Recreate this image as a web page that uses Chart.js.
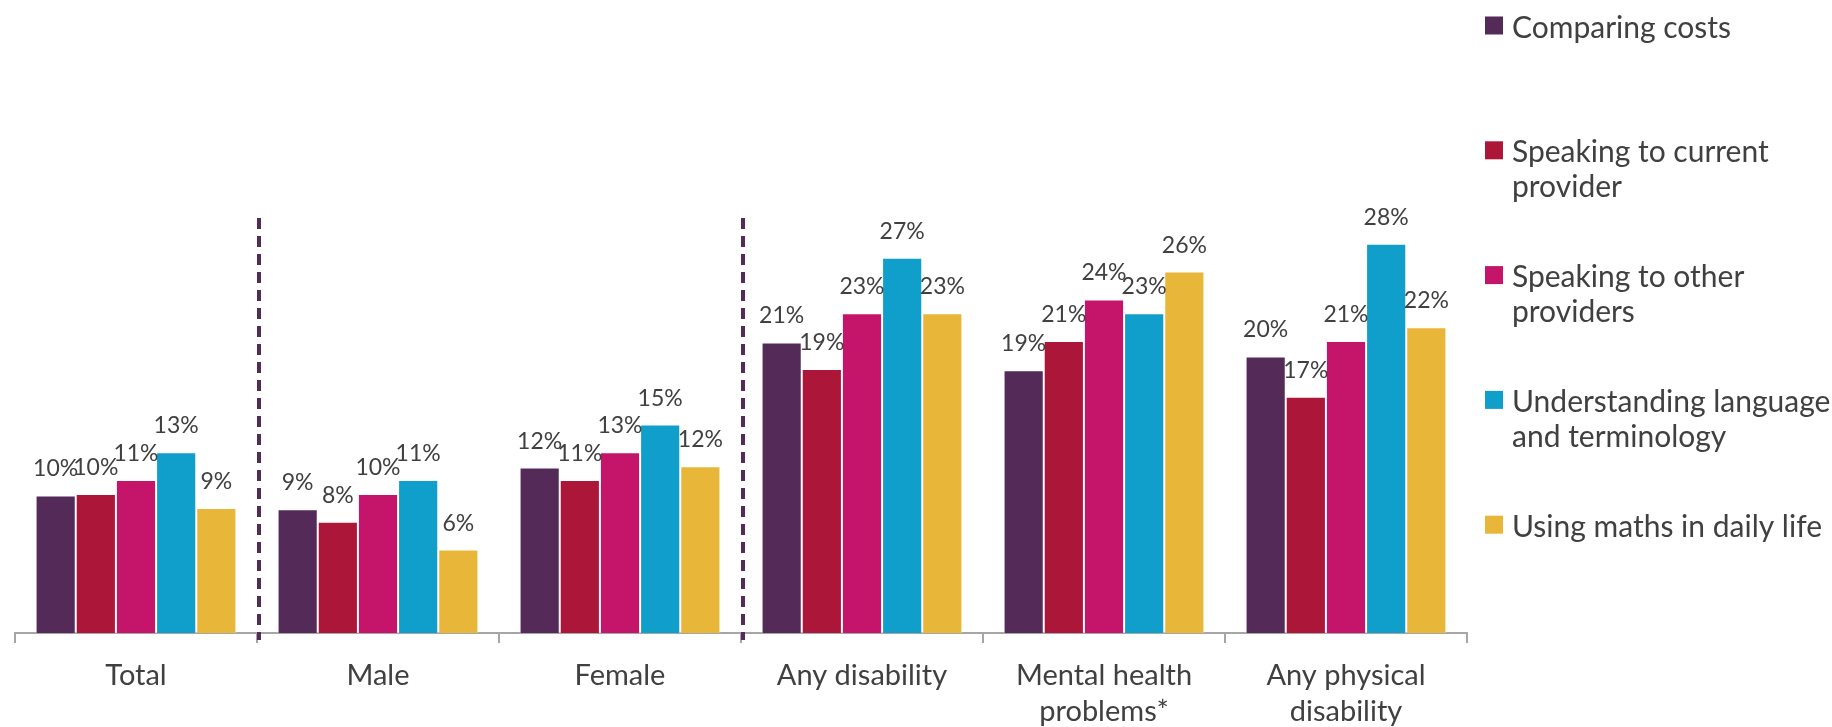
<!DOCTYPE html>
<html>
<head>
<meta charset="utf-8">
<script src="https://cdn.jsdelivr.net/npm/chart.js@4.4.1/dist/chart.umd.min.js"></script>
<style>
  body { margin: 0; background: #fff; }
  #wrap { width: 1832px; height: 727px; position: relative; }
</style>
</head>
<body>
<div id="wrap"><canvas id="myChart"></canvas></div>
<script>
const categories = ['Total', 'Male', 'Female', 'Any disability', ['Mental health', 'problems*'], ['Any physical', 'disability']];

const seriesNames = ['Comparing costs', 'Speaking to current provider', 'Speaking to other providers', 'Understanding language and terminology', 'Using maths in daily life'];
const legendLines = [
    ['Comparing costs'],
    ['Speaking to current', 'provider'],
    ['Speaking to other', 'providers'],
    ['Understanding language', 'and terminology'],
    ['Using maths in daily life']
];
const seriesColors = ['#532A58', '#AB1639', '#C4156B', '#109FCA', '#E8B739'];

const comparingCosts = [9.9, 8.9, 11.9, 20.9, 18.9, 19.9];
const speakingCurrent = [10.0, 8.0, 11.0, 19.0, 21.0, 17.0];
const speakingOther = [11.0, 10.0, 13.0, 23.0, 24.0, 21.0];
const understandingLanguage = [13.0, 11.0, 15.0, 27.0, 23.0, 28.0];
const usingMaths = [9.0, 6.0, 12.0, 23.0, 26.0, 22.0];

// dashed separators after these category indexes
const separatorsAfter = [0, 2];

const FONT = 'Lato, "Open Sans", sans-serif';
const TEXT = '#404040';

// dashed purple divider lines
const dividers = {
    id: 'dividers',
    afterDatasetsDraw(chart) {
        const { ctx, chartArea } = chart;
        const x = chart.scales.x;
        ctx.save();
        ctx.strokeStyle = '#532A58';
        ctx.lineWidth = 4;
        ctx.setLineDash([11, 7]);
        separatorsAfter.forEach(i => {
            const px = (x.getPixelForValue(i) + x.getPixelForValue(i + 1)) / 2 + 2;
            ctx.beginPath();
            ctx.moveTo(px, chartArea.top + 2);
            ctx.lineTo(px, chartArea.bottom + 7);
            ctx.stroke();
        });
        ctx.restore();
    }
};

// value labels above bars
const valueLabels = {
    id: 'valueLabels',
    afterDatasetsDraw(chart) {
        const { ctx } = chart;
        ctx.save();
        ctx.font = '23px ' + FONT;
        ctx.fillStyle = TEXT;
        ctx.textAlign = 'center';
        ctx.textBaseline = 'alphabetic';
        chart.data.datasets.forEach((ds, di) => {
            const meta = chart.getDatasetMeta(di);
            meta.data.forEach((bar, i) => {
                ctx.fillText(Math.round(ds.data[i]) + '%', bar.x, bar.y - 19);
            });
        });
        ctx.restore();
    }
};

// legend on the right, wrapped text
const sideLegend = {
    id: 'sideLegend',
    afterDraw(chart) {
        const { ctx } = chart;
        ctx.save();
        ctx.font = '30px ' + FONT;
        ctx.textAlign = 'left';
        ctx.textBaseline = 'alphabetic';
        legendLines.forEach((lines, i) => {
            const top = 16.5 + i * 124.8;
            ctx.fillStyle = seriesColors[i];
            ctx.fillRect(1485, top, 18, 18);
            ctx.fillStyle = TEXT;
            lines.forEach((t, j) => ctx.fillText(t, 1512, top + 21 + j * 35));
        });
        ctx.restore();
    }
};

const seriesData = [comparingCosts, speakingCurrent, speakingOther, understandingLanguage, usingMaths];

new Chart(document.getElementById('myChart'), {
    type: 'bar',
    data: {
        labels: categories,
        datasets: seriesData.map((d, i) => ({
            label: seriesNames[i],
            data: d,
            backgroundColor: seriesColors[i],
            borderColor: 'rgba(255, 255, 255, 0.7)',
            borderWidth: { top: 1, left: 1, right: 1, bottom: 0 },
            categoryPercentage: 0.83,
            barPercentage: 1.0
        }))
    },
    options: {
        responsive: true,
        maintainAspectRatio: false,
        animation: false,
        layout: {
            padding: { left: 15, right: 365, top: 216, bottom: 0 }
        },
        plugins: {
            legend: { display: false },
            tooltip: { enabled: false }
        },
        scales: {
            x: {
                offset: true,
                grid: {
                    offset: true,
                    drawOnChartArea: false,
                    drawTicks: true,
                    tickLength: 10,
                    color: '#A6A6A6',
                    lineWidth: 2
                },
                border: { display: true, color: '#A6A6A6', width: 2 },
                ticks: {
                    color: TEXT,
                    font: { family: FONT, size: 29, lineHeight: 1.26 },
                    padding: 14,
                    maxRotation: 0,
                    autoSkip: false
                },
                afterFit(scale) { scale.height = 94; }
            },
            y: {
                display: false,
                min: 0,
                max: 30
            }
        }
    },
    plugins: [dividers, valueLabels, sideLegend]
});
</script>
</body>
</html>
